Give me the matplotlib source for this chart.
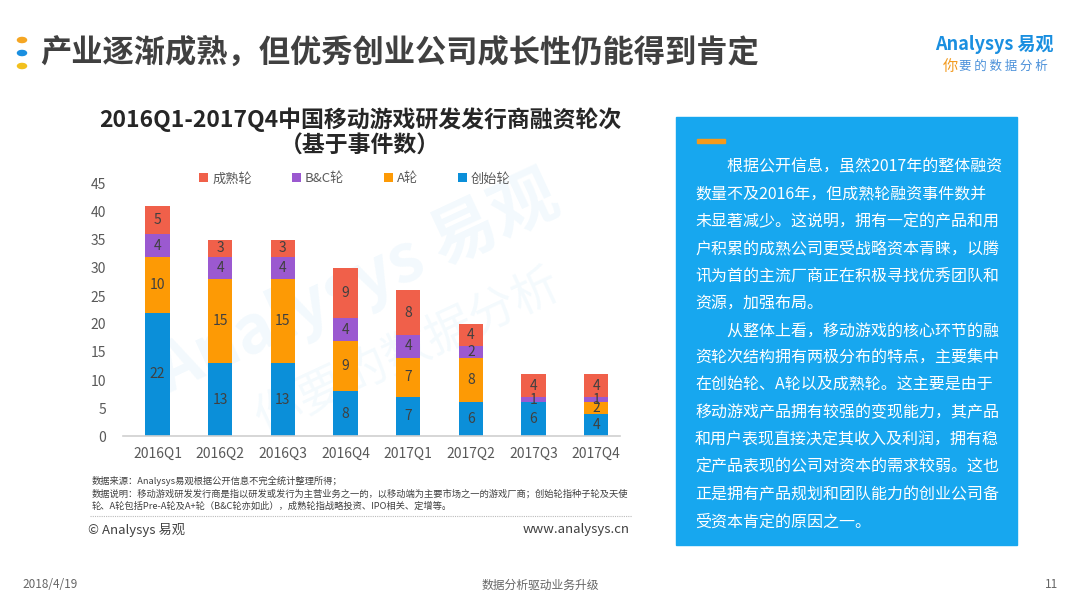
import numpy as np
import matplotlib.pyplot as plt
from matplotlib.patches import Rectangle, Circle

plt.rcParams['font.family'] = ['Noto Sans CJK SC', 'DejaVu Sans']

quarters = ['2016Q1', '2016Q2', '2016Q3', '2016Q4', '2017Q1', '2017Q2', '2017Q3', '2017Q4']
seed_round = [22, 13, 13, 8, 7, 6, 6, 4]      # 创始轮
a_round = [10, 15, 15, 9, 7, 8, 0, 2]         # A轮
bc_round = [4, 4, 4, 4, 4, 2, 1, 1]           # B&C轮
mature_round = [5, 3, 3, 9, 8, 4, 4, 4]       # 成熟轮
series_names = ['创始轮', 'A轮', 'B&C轮', '成熟轮']
series_colors = ['#0b8fd9', '#fd9a05', '#9b59d0', '#f0604a']

panel_lines = [
    '　　根据公开信息，虽然2017年的整体融资',
    '数量不及2016年，但成熟轮融资事件数并',
    '未显著减少。这说明，拥有一定的产品和用',
    '户积累的成熟公司更受战略资本青睐，以腾',
    '讯为首的主流厂商正在积极寻找优秀团队和',
    '资源，加强布局。',
    '　　从整体上看，移动游戏的核心环节的融',
    '资轮次结构拥有两极分布的特点，主要集中',
    '在创始轮、A轮以及成熟轮。这主要是由于',
    '移动游戏产品拥有较强的变现能力，其产品',
    '和用户表现直接决定其收入及利润，拥有稳',
    '定产品表现的公司对资本的需求较弱。这也',
    '正是拥有产品规划和团队能力的创业公司备',
    '受资本肯定的原因之一。',
]

notes = [
    '数据来源：Analysys易观根据公开信息不完全统计整理所得；',
    '数据说明：移动游戏研发发行商是指以研发或发行为主营业务之一的，以移动端为主要市场之一的游戏厂商；创始轮指种子轮及天使',
    '轮、A轮包括Pre-A轮及A+轮（B&C轮亦如此），成熟轮指战略投资、IPO相关、定增等。',
]

W, H = 1080, 608
fig = plt.figure(figsize=(W / 100, H / 100), dpi=100)


def fx(x):
    return x / W


def fy(y):
    return 1 - y / H


# header
for yy, c in zip([40, 53, 66], ['#f5a623', '#1a8fe0', '#f2c01e']):
    fig.patches.append(Circle((fx(22), fy(yy)), 0.0042, transform=fig.transFigure,
                              color=c, zorder=3))
fig.text(fx(40), fy(53), '产业逐渐成熟，但优秀创业公司成长性仍能得到肯定', fontsize=22.5,
         fontweight='bold', color='#404040', va='center', ha='left')
fig.text(fx(1054), fy(44), 'Analysys 易观', fontsize=13, color='#1a8fe0',
         ha='right', va='center', fontweight='bold')
fig.text(fx(943), fy(66), '你', fontsize=11, color='#f29a1f', ha='left', va='center')
fig.text(fx(959), fy(66), '要 的 数 据 分 析', fontsize=9, color='#4a90d9', ha='left', va='center')

# chart title
fig.text(fx(360), fy(120), '2016Q1-2017Q4中国移动游戏研发发行商融资轮次', fontsize=16.5,
         fontweight='bold', color='#262626', ha='center', va='center')
fig.text(fx(360), fy(146), '（基于事件数）', fontsize=16.5,
         fontweight='bold', color='#262626', ha='center', va='center')

# chart
ax = fig.add_axes([fx(123), fy(436), fx(620) - fx(123), (436 - 184) / H])
x = np.arange(len(quarters))
bottom = np.zeros(len(quarters))
handles = []
for vals, name, col in zip([seed_round, a_round, bc_round, mature_round], series_names, series_colors):
    vals = np.array(vals)
    bars = ax.bar(x, vals, 0.39, bottom=bottom, color=col, label=name, zorder=2)
    handles.append(bars)
    for xi, b, v in zip(x, bottom, vals):
        if v > 0:
            ax.text(xi, b + v / 2, str(v), ha='center', va='center', fontsize=10,
                    color='#404040', zorder=3)
    bottom = bottom + vals

ax.set_xlim(-0.55, 7.38)
ax.set_ylim(0, 45)
ax.set_yticks(np.arange(0, 46, 5))
ax.set_xticks(x)
ax.set_xticklabels(quarters)
ax.tick_params(axis='both', length=0, labelsize=10, colors='#595959')
ax.tick_params(axis='x', pad=8)
ax.tick_params(axis='y', pad=12)
for s in ['top', 'right', 'left']:
    ax.spines[s].set_visible(False)
ax.spines['bottom'].set_color('#d0d0d0')
ax.spines['bottom'].set_linewidth(1.2)

# faint watermark
ax.text(3.2, 27, 'Analysys 易观', fontsize=48, color='#2a9ae0', alpha=0.06,
        rotation=25, ha='center', va='center', fontweight='bold', zorder=1)
ax.text(4.0, 15, '你要的数据分析', fontsize=34, color='#2a9ae0', alpha=0.05,
        rotation=25, ha='center', va='center', zorder=1)

leg = fig.legend(handles[::-1], series_names[::-1], loc='center', ncol=4,
                 bbox_to_anchor=(fx(355), fy(179)), frameon=False, fontsize=9.5,
                 handlelength=0.7, handleheight=0.7, handletextpad=0.3, columnspacing=3.0)
for t in leg.get_texts():
    t.set_color('#595959')

# notes and footer of chart
for i, line in enumerate(notes):
    fig.text(fx(92), fy(481 + 12.5 * i), line, fontsize=6.7, color='#404040',
             ha='left', va='center')
fig.lines.append(plt.Line2D([fx(90), fx(632)], [fy(516), fy(516)], transform=fig.transFigure,
                            color='#bbbbbb', linestyle=(0, (1, 1)), linewidth=0.8))
fig.text(fx(88), fy(530), '© Analysys 易观', fontsize=9.5, color='#404040', ha='left', va='center')
fig.text(fx(630), fy(530), 'www.analysys.cn', fontsize=9.5, color='#404040', ha='right', va='center')

# right panel
fig.patches.append(Rectangle((fx(676), fy(545)), fx(1017) - fx(676), (545 - 117) / H,
                             transform=fig.transFigure, color='#17a7ef', zorder=0))
fig.patches.append(Rectangle((fx(697), fy(143)), fx(28), 4 / H,
                             transform=fig.transFigure, color='#f59a1b', zorder=1))
for i, line in enumerate(panel_lines):
    fig.text(fx(695), fy(167 + 27.3 * i), line, fontsize=11.5, color='white',
             ha='left', va='center')

# page footer
fig.text(fx(22), fy(585), '2018/4/19', fontsize=8.5, color='#666666', ha='left', va='center')
fig.text(fx(540), fy(585), '数据分析驱动业务升级', fontsize=8.5, color='#666666', ha='center', va='center')
fig.text(fx(1058), fy(585), '11', fontsize=8.5, color='#666666', ha='right', va='center')

fig.savefig('out.png', dpi=100)
